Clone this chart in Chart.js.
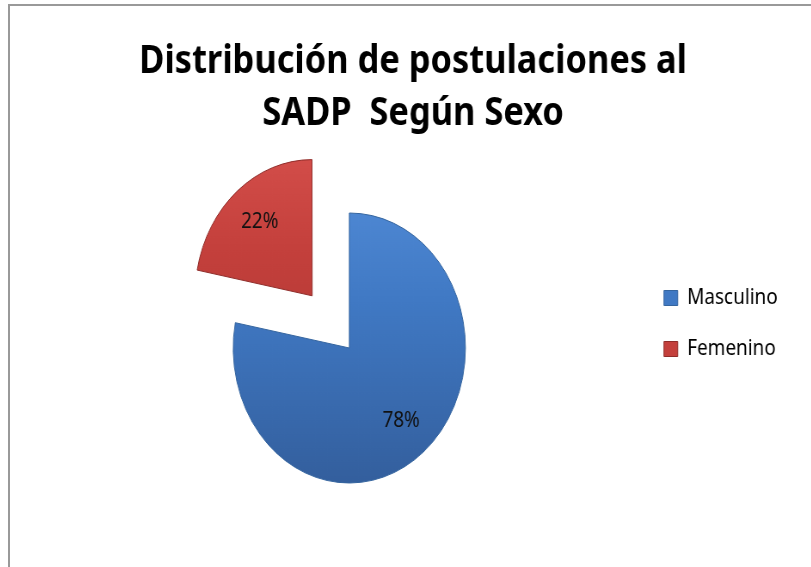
<!DOCTYPE html>
<html>
<head>
<meta charset="utf-8">
<script src="https://cdn.jsdelivr.net/npm/chart.js@4.4.0/dist/chart.umd.min.js"></script>
<style>
  html, body { margin: 0; padding: 0; background: #fff; overflow: hidden; }
  #clip { position: absolute; left: 0; top: 0; width: 811px; height: 567px; overflow: hidden; }
  #edgeTop { position: absolute; left: 8px; top: 4px; width: 803px; height: 2px; background: #999; }
  #edgeLeft { position: absolute; left: 8px; top: 4px; width: 2px; height: 563px; background: #999; }
  #wrap { position: absolute; left: 8px; top: 0; width: 943px; height: 567px;
          transform: scaleX(0.86); transform-origin: 0 0; }
  #sexChart { display: block; }
</style>
</head>
<body>
<div id="clip">
  <div id="edgeTop"></div>
  <div id="edgeLeft"></div>
  <div id="wrap"><canvas id="sexChart" width="943" height="567"></canvas></div>
</div>
<script>
const categories = ['Masculino', 'Femenino'];
const shares = [78, 22];
const titleLines = ['Distribución de postulaciones al', 'SADP  Según Sexo'];

const solidColors = ['#4079c4', '#c4403c'];
const edgeColors = ['#35659f', '#8f2c29'];
const topColors = ['#5690dc', '#dc5652'];
const bottomColors = ['#335e9c', '#a8332f'];

function sliceFill(context) {
    const chart = context.chart;
    const area = chart.chartArea;
    const i = context.dataIndex;
    if (!area) {
        return solidColors[i];
    }
    const cy = (area.top + area.bottom) / 2;
    const grad = chart.ctx.createLinearGradient(0, cy - 200, 0, cy + 140);
    grad.addColorStop(0, topColors[i]);
    grad.addColorStop(0.45, solidColors[i]);
    grad.addColorStop(1, bottomColors[i]);
    return grad;
}

// percent labels placed along each slice's bisector
const sliceLabels = {
    id: 'sliceLabels',
    afterDatasetsDraw(chart) {
        const ctx = chart.ctx;
        const meta = chart.getDatasetMeta(0);
        const values = chart.data.datasets[0].data;
        const total = values.reduce((a, b) => a + b, 0);
        ctx.save();
        ctx.font = '22px "Noto Sans"';
        ctx.fillStyle = '#111';
        ctx.textAlign = 'center';
        ctx.textBaseline = 'middle';
        meta.data.forEach((arc, i) => {
            const p = arc.getProps(['x', 'y', 'startAngle', 'endAngle', 'outerRadius', 'circumference'], true);
            const mid = (p.startAngle + p.endAngle) / 2;
            const off = (arc.options.offset || 0) / 4;
            const fix = 1 - Math.sin(Math.min(Math.PI, p.circumference || 0));
            const r = p.outerRadius * 0.7 + off * (1 + fix);
            ctx.fillText(Math.round(values[i] / total * 100) + '%', p.x + Math.cos(mid) * r, p.y + Math.sin(mid) * r);
        });
        ctx.restore();
    }
};

const ctx = document.getElementById('sexChart').getContext('2d');
new Chart(ctx, {
    type: 'pie',
    data: {
        labels: categories,
        datasets: [{
            data: shares,
            backgroundColor: sliceFill,
            borderColor: edgeColors,
            borderWidth: 1,
            offset: [0, 271],
            hoverOffset: 0
        }]
    },
    options: {
        responsive: false,
        animation: false,
        radius: 135,
        layout: { padding: { left: 37, right: 38, top: 0, bottom: 21 } },
        plugins: {
            tooltip: { enabled: false },
            title: {
                display: true,
                text: titleLines,
                color: '#000',
                font: { family: '"Noto Sans"', size: 40, weight: 'bold', lineHeight: 1.3 },
                padding: { top: 36, bottom: 10 }
            },
            subtitle: {
                display: true,
                position: 'left',
                text: ' ',
                font: { size: 10 },
                padding: { top: 0, bottom: 11 }
            },
            legend: {
                position: 'right',
                title: { display: true, text: ' ', font: { size: 10 }, padding: { top: 89, bottom: 0 } },
                labels: {
                    boxWidth: 16,
                    boxHeight: 15,
                    padding: 29,
                    color: '#000',
                    font: { family: '"Noto Sans"', size: 22 },
                    generateLabels(chart) {
                        const items = Chart.overrides.pie.plugins.legend.labels.generateLabels(chart);
                        return items.map((item, i) => Object.assign(item, {
                            fillStyle: solidColors[i],
                            strokeStyle: edgeColors[i],
                            lineWidth: 1
                        }));
                    }
                }
            }
        }
    },
    plugins: [sliceLabels]
});
</script>
</body>
</html>
